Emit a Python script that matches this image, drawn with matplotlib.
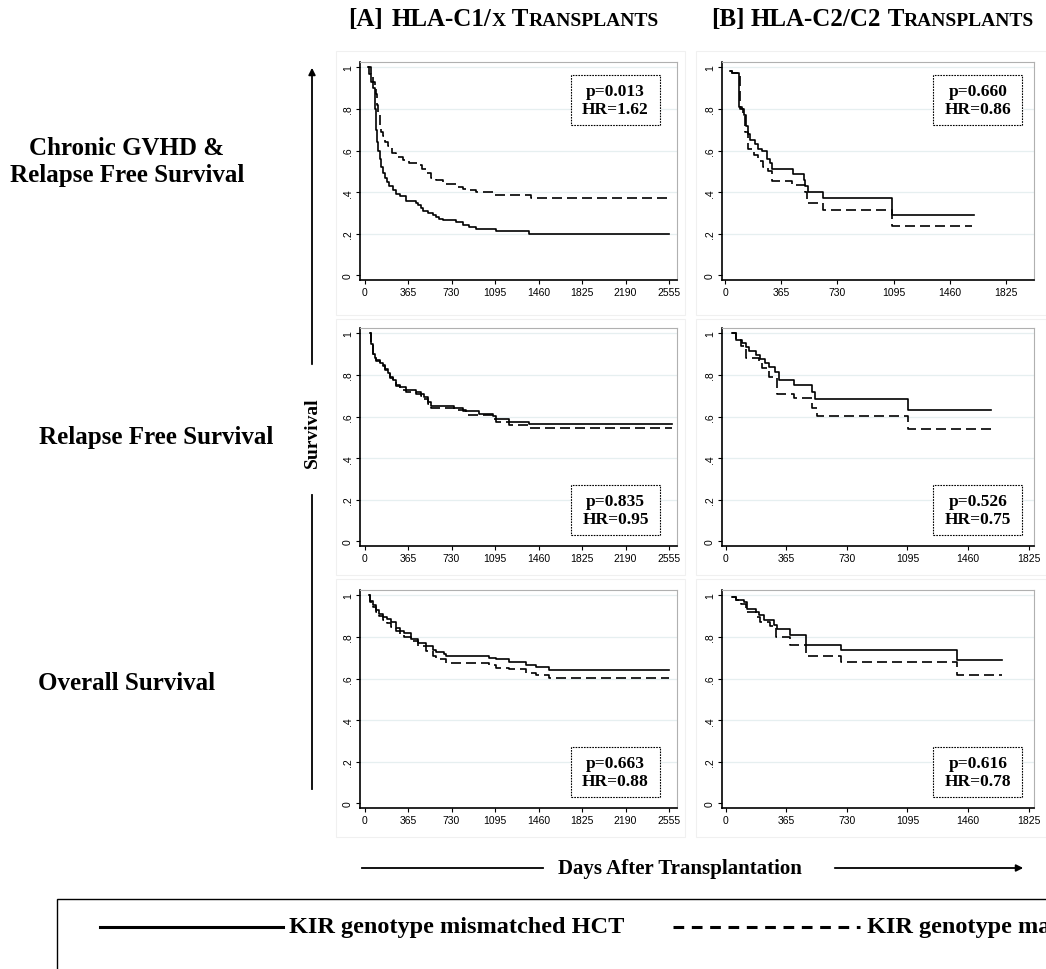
import matplotlib.pyplot as plt
from matplotlib.patches import Rectangle, FancyArrowPatch
from matplotlib.lines import Line2D

W, H = 1046, 970

# --- data (days, survival) ---
# [A] HLA-C1/x, chronic GVHD & relapse free survival
a_cg_mm_t = [28, 40, 56, 70, 84, 91, 98, 105, 115, 126, 140, 154, 168, 185, 209, 235, 265, 300, 349,
             433, 450, 470, 489, 530, 572, 600, 628, 660, 768, 824, 880, 935, 1103, 1382, 2555]
a_cg_mm_s = [1.0, 0.97, 0.93, 0.90, 0.86, 0.80, 0.70, 0.64, 0.60, 0.56, 0.52, 0.49, 0.47, 0.45, 0.43,
             0.41, 0.39, 0.38, 0.36, 0.35, 0.34, 0.325, 0.31, 0.30, 0.29, 0.28, 0.27, 0.265, 0.255,
             0.244, 0.235, 0.225, 0.212, 0.20, 0.20]
a_cg_m_t = [28, 56, 70, 84, 98, 105, 112, 126, 140, 154, 175, 195, 230, 265, 320, 377, 447, 480, 517,
            560, 600, 656, 768, 824, 880, 935, 1089, 1396, 2555]
a_cg_m_s = [1.0, 0.96, 0.93, 0.90, 0.87, 0.82, 0.77, 0.72, 0.69, 0.67, 0.64, 0.62, 0.59, 0.57, 0.555,
            0.54, 0.53, 0.51, 0.49, 0.47, 0.457, 0.44, 0.425, 0.417, 0.41, 0.40, 0.385, 0.37, 0.37]

# [B] HLA-C2/C2, chronic GVHD & relapse free survival
b_cg_mm_t = [33, 43, 93, 110, 124, 137, 152, 159, 196, 217, 239, 272, 293, 304, 439, 511, 521, 537,
             637, 1087, 1619]
b_cg_mm_s = [0.985, 0.975, 0.81, 0.80, 0.77, 0.72, 0.68, 0.65, 0.63, 0.61, 0.60, 0.56, 0.54, 0.51,
             0.486, 0.46, 0.43, 0.40, 0.37, 0.29, 0.29]
b_cg_m_t = [33, 43, 98, 115, 130, 146, 185, 217, 246, 278, 304, 435, 521, 532, 637, 1087, 1608]
b_cg_m_s = [0.985, 0.975, 0.80, 0.78, 0.69, 0.61, 0.58, 0.55, 0.52, 0.50, 0.455, 0.435, 0.40, 0.35,
            0.315, 0.24, 0.24]

# [A] relapse free survival
a_rfs_mm_t = [42, 56, 70, 84, 98, 126, 154, 175, 195, 215, 237, 265, 300, 349, 433, 470, 503, 531,
              558, 754, 824, 963, 1075, 1103, 1215, 1382, 2580]
a_rfs_mm_s = [1.0, 0.95, 0.90, 0.88, 0.87, 0.86, 0.848, 0.83, 0.81, 0.79, 0.776, 0.75, 0.74, 0.73,
              0.72, 0.71, 0.696, 0.672, 0.65, 0.643, 0.627, 0.614, 0.605, 0.59, 0.576, 0.563, 0.563]
a_rfs_m_t = [42, 56, 70, 84, 98, 126, 154, 175, 195, 215, 237, 265, 300, 349, 433, 470, 503, 531,
             558, 754, 852, 1075, 1103, 1215, 1382, 2580]
a_rfs_m_s = [1.0, 0.95, 0.90, 0.88, 0.865, 0.855, 0.845, 0.825, 0.805, 0.785, 0.77, 0.745, 0.73,
             0.72, 0.71, 0.70, 0.685, 0.66, 0.64, 0.63, 0.61, 0.59, 0.576, 0.56, 0.547, 0.547]

# [B] relapse free survival
b_rfs_mm_t = [40, 60, 100, 120, 140, 180, 209, 239, 259, 299, 319, 409, 519, 539, 1097, 1596]
b_rfs_mm_s = [1.0, 0.97, 0.952, 0.936, 0.915, 0.896, 0.877, 0.856, 0.84, 0.816, 0.776, 0.75, 0.717,
              0.685, 0.63, 0.63]
b_rfs_m_t = [40, 60, 90, 120, 199, 219, 259, 309, 409, 519, 548, 1097, 1596]
b_rfs_m_s = [1.0, 0.97, 0.94, 0.883, 0.864, 0.832, 0.792, 0.71, 0.688, 0.64, 0.603, 0.54, 0.54]

# [A] overall survival
a_os_mm_t = [36, 50, 70, 98, 125, 154, 190, 223, 265, 300, 335, 391, 447, 517, 572, 600, 670, 684,
             1047, 1103, 1215, 1354, 1438, 1550, 2555]
a_os_mm_s = [1.0, 0.975, 0.952, 0.928, 0.91, 0.896, 0.885, 0.872, 0.843, 0.83, 0.82, 0.792, 0.773,
             0.755, 0.736, 0.728, 0.718, 0.707, 0.70, 0.693, 0.68, 0.667, 0.654, 0.643, 0.643]
a_os_m_t = [36, 50, 70, 98, 125, 154, 190, 223, 265, 300, 335, 391, 447, 517, 572, 600, 684, 1047,
            1103, 1215, 1354, 1438, 1550, 2555]
a_os_m_s = [1.0, 0.97, 0.945, 0.92, 0.90, 0.88, 0.865, 0.85, 0.83, 0.815, 0.80, 0.78, 0.755, 0.735,
            0.709, 0.696, 0.677, 0.664, 0.653, 0.645, 0.629, 0.619, 0.603, 0.603]

# [B] overall survival
b_os_mm_t = [40, 60, 110, 130, 180, 199, 229, 289, 309, 389, 485, 698, 1396, 1665]
b_os_mm_s = [0.99, 0.98, 0.968, 0.933, 0.92, 0.904, 0.88, 0.86, 0.84, 0.808, 0.763, 0.736, 0.688, 0.688]
b_os_m_t = [40, 60, 90, 120, 180, 209, 269, 305, 389, 485, 698, 1396, 1665]
b_os_m_s = [0.99, 0.98, 0.957, 0.92, 0.896, 0.872, 0.853, 0.80, 0.76, 0.709, 0.68, 0.619, 0.619]

p_vals = [['0.013', '0.660'], ['0.835', '0.526'], ['0.663', '0.616']]
hr_vals = [['1.62', '0.86'], ['0.95', '0.75'], ['0.88', '0.78']]
row_labels = ['Chronic GVHD &\nRelapse Free Survival', 'Relapse Free Survival', 'Overall Survival']
a_ticks = [0, 365, 730, 1095, 1460, 1825, 2190, 2555]
b_ticks = [0, 365, 730, 1095, 1460, 1825]
y_ticks = [0, 0.2, 0.4, 0.6, 0.8, 1]
y_ticklabels = ['0', '.2', '.4', '.6', '.8', '1']

curves = [
    [(a_cg_mm_t, a_cg_mm_s, a_cg_m_t, a_cg_m_s), (b_cg_mm_t, b_cg_mm_s, b_cg_m_t, b_cg_m_s)],
    [(a_rfs_mm_t, a_rfs_mm_s, a_rfs_m_t, a_rfs_m_s), (b_rfs_mm_t, b_rfs_mm_s, b_rfs_m_t, b_rfs_m_s)],
    [(a_os_mm_t, a_os_mm_s, a_os_m_t, a_os_m_s), (b_os_mm_t, b_os_mm_s, b_os_m_t, b_os_m_s)],
]

SERIF = 'Liberation Serif'
SANS = 'Liberation Sans'


def fx(x):
    return x / W


def fy(y):
    return 1 - y / H


fig = plt.figure(figsize=(W / 100, H / 100), dpi=100)

# panel geometry in pixels
col_x = [(360, 677), (722, 1034)]
row_y = [(63, 281), (329, 547), (591, 809)]
xlims = [[(-38, 2622), (-20, 2008)], [(-38, 2622), (-22, 1858)], [(-38, 2622), (-22, 1858)]]
outer_x = [(336, 685), (696, 1046)]
outer_y = [(52, 316), (320, 576), (580, 838)]
box_pos = [[(0.806, 0.826), (0.82, 0.826)], [(0.806, 0.165), (0.82, 0.165)],
           [(0.806, 0.165), (0.82, 0.165)]]

for r in range(3):
    for c in range(2):
        # faint graph-region border
        ox0, ox1 = outer_x[c]
        oy0, oy1 = outer_y[r]
        fig.add_artist(Rectangle((fx(ox0), fy(oy1)), (ox1 - ox0) / W, (oy1 - oy0) / H,
                                 transform=fig.transFigure, fill=False, ec='#f0f0f0', lw=0.8))
        x0, x1 = col_x[c]
        y0, y1 = row_y[r]
        ax = fig.add_axes([fx(x0), fy(y1), (x1 - x0) / W, (y1 - y0) / H])
        mm_t, mm_s, m_t, m_s = curves[r][c]
        for yv in [0.2, 0.4, 0.6, 0.8, 1.0]:
            ax.axhline(yv, color='#e6eff0', lw=0.9, zorder=0)
        ax.step(mm_t, mm_s, where='post', color='black', lw=1.2, zorder=3)
        ax.step(m_t, m_s, where='post', color='black', lw=1.2, ls=(0, (6, 3)), zorder=3)
        ax.set_xlim(*xlims[r][c])
        ax.set_ylim(-0.022, 1.026)
        ax.set_xticks(a_ticks if c == 0 else b_ticks)
        ax.set_yticks(y_ticks)
        ax.set_yticklabels(y_ticklabels, rotation=90, va='center')
        ax.tick_params(direction='out', length=3, width=0.8, labelsize=7.5, pad=2)
        for lab in ax.get_xticklabels() + ax.get_yticklabels():
            lab.set_fontfamily(SANS)
        for s in ['top', 'right']:
            ax.spines[s].set_color('#b0b0b0')
            ax.spines[s].set_linewidth(0.8)
        for s in ['left', 'bottom']:
            ax.spines[s].set_linewidth(1.2)
        # p-value / HR box
        bx, by = box_pos[r][c]
        bw, bh = 89 / (x1 - x0), 50 / (y1 - y0)
        ax.add_patch(Rectangle((bx - bw / 2, by - bh / 2), bw, bh, transform=ax.transAxes,
                               fill=True, fc='white', ec='black', lw=0.8, ls=(0, (1.5, 1)),
                               zorder=5))
        ax.text(bx, by, 'p=%s\nHR=%s' % (p_vals[r][c], hr_vals[r][c]), transform=ax.transAxes,
                ha='center', va='center', ma='center', fontsize=12.5, fontweight='bold',
                family=SERIF, linespacing=1.1, zorder=6)

fig.canvas.draw()
renderer = fig.canvas.get_renderer()


def piece_text(x, y, parts):
    # lay out pieces side by side (used for the small-caps titles)
    cur_x = x
    for s, size in parts:
        t = fig.text(fx(cur_x), fy(y), s, fontsize=size, fontweight='bold', family=SERIF,
                     va='baseline', ha='left')
        cur_x = cur_x + t.get_window_extent(renderer).width


BIG, SMALL = 18, 14
piece_text(348, 26, [('[A]', BIG)])
piece_text(392, 26, [('HLA-C1/', BIG), ('X', SMALL), (' T', BIG), ('RANSPLANTS', SMALL)])
piece_text(711, 26, [('[B]', BIG)])
piece_text(751, 26, [('HLA-C2/C2', BIG), (' T', BIG), ('RANSPLANTS', SMALL)])

# row labels
fig.text(fx(127), fy(162), row_labels[0], ha='center', va='center', fontsize=18,
         fontweight='bold', family=SERIF, linespacing=1.25)
fig.text(fx(156), fy(438), row_labels[1], ha='center', va='center', fontsize=18,
         fontweight='bold', family=SERIF)
fig.text(fx(127), fy(684), row_labels[2], ha='center', va='center', fontsize=18,
         fontweight='bold', family=SERIF)

# vertical "Survival" axis with arrow
fig.text(fx(312), fy(433), 'Survival', rotation=90, ha='center', va='center', fontsize=14,
         fontweight='bold', family=SERIF)
fig.add_artist(Line2D([fx(312), fx(312)], [fy(790), fy(496)], color='black', lw=1.3,
                      transform=fig.transFigure))
fig.add_artist(FancyArrowPatch((fx(312), fy(368)), (fx(312), fy(66)), transform=fig.transFigure,
                               arrowstyle='-|>', mutation_scale=10, color='black', lw=1.3))

# horizontal "Days After Transplantation" axis with arrow
fig.text(fx(680), fy(869), 'Days After Transplantation', ha='center', va='center', fontsize=15,
         fontweight='bold', family=SERIF)
fig.add_artist(Line2D([fx(362), fx(543)], [fy(869), fy(869)], color='black', lw=1.3,
                      transform=fig.transFigure))
fig.add_artist(FancyArrowPatch((fx(832), fy(869)), (fx(1026), fy(869)), transform=fig.transFigure,
                               arrowstyle='-|>', mutation_scale=10, color='black', lw=1.3))

# legend box (the reference is cropped on the right)
fig.add_artist(Rectangle((fx(57), fy(975)), (1060 - 57) / W, 75 / H, transform=fig.transFigure,
                         fill=False, ec='black', lw=1.0))
fig.add_artist(Line2D([fx(100), fx(283)], [fy(928), fy(928)], color='black', lw=2.2,
                      transform=fig.transFigure))
fig.text(fx(289), fy(928), 'KIR genotype mismatched HCT', ha='left', va='center', fontsize=17.5,
         fontweight='bold', family=SERIF)
fig.add_artist(Line2D([fx(673), fx(860)], [fy(928), fy(928)], color='black', lw=2.2,
                      ls=(0, (3.5, 2.5)), transform=fig.transFigure))
fig.text(fx(867), fy(928), 'KIR genotype matched HCT', ha='left', va='center', fontsize=17.5,
         fontweight='bold', family=SERIF)

fig.savefig('out.png', dpi=100)
